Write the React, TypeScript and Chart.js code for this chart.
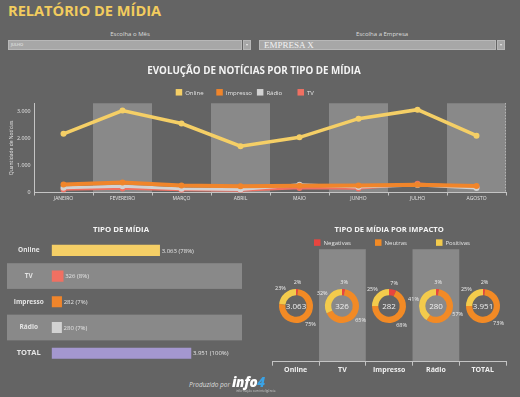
import React, { useEffect, useRef } from 'react';
import { Chart, registerables } from 'chart.js';

Chart.register(...registerables);

const FONT = '"Open Sans", sans-serif';

// ---------- Data ----------
const months = ['JANEIRO', 'FEVEREIRO', 'MARÇO', 'ABRIL', 'MAIO', 'JUNHO', 'JULHO', 'AGOSTO'];
const onlineByMonth = [2170, 3030, 2550, 1710, 2040, 2730, 3063, 2100];
const impressoByMonth = [300, 370, 260, 230, 250, 260, 282, 240];
const radioByMonth = [180, 230, 140, 110, 290, 200, 280, 170];
const tvByMonth = [110, 150, 90, 70, 170, 150, 326, 200];
const lineYTicks = [0, 1000, 2000, 3000];

const mediaTypes = ['Online', 'TV', 'Impresso', 'Rádio', 'TOTAL'];
const mediaTotals = [3063, 326, 282, 280, 3951];
const mediaShares = [78, 8, 7, 7, 100];

const impactLevels = ['Negativas', 'Neutras', 'Positivas'];
const impactCategories = ['Online', 'TV', 'Impresso', 'Rádio', 'TOTAL'];
const impactTotals = [3063, 326, 282, 280, 3951];
const negativasPct = [2, 3, 7, 3, 2];
const neutrasPct = [75, 65, 68, 57, 73];
const positivasPct = [23, 32, 25, 41, 25];

// ---------- Styles ----------
const C = {
  bg: '#646464',
  band: '#898989',
  online: '#F5CF66',
  impresso: '#F0852B',
  radio: '#D2D2D2',
  tv: '#F07062',
  total: '#A497CF',
  neg: '#E8453F',
  neu: '#F28A25',
  pos: '#F3CB4C',
  text: '#e4e4e4',
  axis: '#c4c4c4',
  title: '#f4f4f4',
};
const mediaColors = [C.online, C.tv, C.impresso, C.radio, C.total];
const impactColors = [C.neg, C.neu, C.pos];

const fmt = (v: number) => String(Math.round(v)).replace(/\B(?=(\d{3})+(?!\d))/g, '.');

// ---------- Plugins ----------
const bandsPlugin = {
  id: 'bands',
  beforeDraw(chart: any, _a: any, opts: any) {
    if (!opts || !opts.indices) return;
    const { ctx, chartArea } = chart;
    const scale = chart.scales[opts.axis];
    const step = Math.abs(scale.getPixelForValue(1) - scale.getPixelForValue(0));
    ctx.save();
    ctx.fillStyle = opts.color;
    opts.indices.forEach((i: number) => {
      const c = scale.getPixelForValue(i);
      if (opts.axis === 'x') {
        ctx.fillRect(c - step / 2, chartArea.top, step, chartArea.bottom - chartArea.top);
      } else {
        const x0 = opts.x0 ?? chartArea.left;
        const x1 = opts.x1 ?? chartArea.right;
        ctx.fillRect(x0, c - step / 2, x1 - x0, step);
      }
    });
    if (opts.rightDash) {
      ctx.strokeStyle = opts.rightDash;
      ctx.lineWidth = 1;
      ctx.setLineDash([1, 2]);
      ctx.beginPath();
      ctx.moveTo(Math.round(chartArea.right) - 0.5, chartArea.top);
      ctx.lineTo(Math.round(chartArea.right) - 0.5, chartArea.bottom);
      ctx.stroke();
    }
    ctx.restore();
  },
};

const fixedLegendPlugin = {
  id: 'fixedLegend',
  afterDraw(chart: any, _a: any, opts: any) {
    if (!opts || opts.x === undefined) return;
    const { ctx } = chart;
    ctx.save();
    ctx.font = `${opts.size}px ${FONT}`;
    ctx.textBaseline = 'middle';
    ctx.textAlign = 'left';
    chart.data.datasets.forEach((ds: any, i: number) => {
      const x = opts.x + i * opts.step;
      ctx.fillStyle = ds.backgroundColor;
      ctx.fillRect(x, opts.y - opts.box / 2, opts.box, opts.box);
      ctx.fillStyle = opts.color;
      ctx.fillText(ds.label, x + opts.box + opts.gap, opts.y + 0.5);
    });
    ctx.restore();
  },
};

const barLabelsPlugin = {
  id: 'barLabels',
  afterDatasetsDraw(chart: any, _a: any, opts: any) {
    if (!opts || !opts.shares) return;
    const { ctx } = chart;
    const meta = chart.getDatasetMeta(0);
    const values = chart.data.datasets[0].data;
    ctx.save();
    ctx.font = `${opts.size}px ${FONT}`;
    ctx.fillStyle = opts.color;
    ctx.textBaseline = 'middle';
    ctx.textAlign = 'left';
    meta.data.forEach((bar: any, i: number) => {
      ctx.fillText(`${fmt(values[i])} (${opts.shares[i]}%)`, bar.x + 2, bar.y + 0.5);
    });
    ctx.restore();
  },
};

const donutLabelsPlugin = {
  id: 'donutLabels',
  afterDraw(chart: any, _a: any, opts: any) {
    if (!opts || opts.total === undefined) return;
    const { ctx } = chart;
    const meta = chart.getDatasetMeta(0);
    const values = chart.data.datasets[0].data;
    ctx.save();
    ctx.textBaseline = 'middle';
    ctx.textAlign = 'center';
    let cx = 0;
    let cy = 0;
    meta.data.forEach((arc: any, i: number) => {
      const p = arc.getProps(['x', 'y', 'startAngle', 'endAngle'], true);
      cx = p.x;
      cy = p.y;
      const a = (p.startAngle + p.endAngle) / 2;
      const r = opts.labelRadius;
      ctx.font = `${opts.pctSize}px ${FONT}`;
      ctx.fillStyle = opts.color;
      ctx.fillText(`${values[i]}%`, p.x + Math.cos(a) * r, p.y + Math.sin(a) * r);
    });
    ctx.font = `${opts.totalSize}px ${FONT}`;
    ctx.fillStyle = opts.color;
    ctx.fillText(fmt(opts.total), cx, cy + 0.5);
    ctx.restore();
  },
};

// ---------- Chart hook ----------
function useChart(build: () => any) {
  const ref = useRef<HTMLCanvasElement | null>(null);
  useEffect(() => {
    if (!ref.current) return;
    const chart = new Chart(ref.current, build());
    return () => chart.destroy();
  }, []);
  return ref;
}

function LineChart() {
  const ref = useChart(() => ({
    type: 'line',
    data: {
      labels: months,
      datasets: [
        { label: 'Online', data: onlineByMonth, color: C.online, w: 3.5 },
        { label: 'Impresso', data: impressoByMonth, color: C.impresso, w: 4 },
        { label: 'Rádio', data: radioByMonth, color: C.radio, w: 3 },
        { label: 'TV', data: tvByMonth, color: C.tv, w: 2.5 },
      ].map((d) => ({
        label: d.label,
        data: d.data,
        borderColor: d.color,
        backgroundColor: d.color,
        pointBackgroundColor: d.color,
        borderWidth: d.w,
        pointRadius: 3,
        pointBorderWidth: 0,
        tension: 0,
      })),
    },
    options: {
      animation: false,
      responsive: false,
      maintainAspectRatio: false,
      layout: { padding: { left: 2, right: 14, top: 0, bottom: 0 } },
      plugins: {
        legend: { display: false },
        tooltip: { enabled: false },
        title: {
          display: true,
          text: 'EVOLUÇÃO DE NOTÍCIAS POR TIPO DE MÍDIA',
          color: C.title,
          font: { family: FONT, size: 9.8, weight: 'bold' },
          padding: { top: 5, bottom: 26.5 },
        },
        bands: { axis: 'x', indices: [1, 3, 5, 7], color: C.band, rightDash: C.axis },
        fixedLegend: { x: 175.7, y: 32.3, step: 40.6, box: 6.5, gap: 3, size: 6, color: C.text },
      },
      scales: {
        x: {
          offset: true,
          grid: { display: true, offset: true, drawOnChartArea: false, drawTicks: true, tickLength: 3, color: C.axis },
          border: { display: true, color: C.axis },
          ticks: { color: C.text, font: { family: FONT, size: 5 }, padding: 0, maxRotation: 0, autoSkip: false },
          afterFit: (s: any) => { s.height = 17.5; },
        },
        y: {
          min: 0,
          max: 3300,
          afterBuildTicks: (s: any) => { s.ticks = lineYTicks.map((v) => ({ value: v })); },
          ticks: { callback: (v: any) => fmt(Number(v)), color: C.text, font: { family: FONT, size: 5.3 }, padding: 3.5 },
          grid: { display: false, drawTicks: false },
          border: { display: true, dash: [1, 2], color: C.axis },
          title: {
            display: true,
            text: 'Quantidade de Notícias',
            color: C.text,
            font: { family: FONT, size: 5 },
            padding: { top: 7, bottom: 0 },
          },
          afterFit: (s: any) => { s.width = 32; },
        },
      },
    },
    plugins: [bandsPlugin, fixedLegendPlugin],
  }));
  return (
    <canvas ref={ref} width={520} height={150}
      style={{ position: 'absolute', left: 0, top: 60, width: 520, height: 150 }} />
  );
}

function MediaBarChart() {
  const ref = useChart(() => ({
    type: 'bar',
    data: {
      labels: mediaTypes,
      datasets: [{ data: mediaTotals, backgroundColor: mediaColors, barThickness: 10.5, borderWidth: 0 }],
    },
    options: {
      indexAxis: 'y',
      animation: false,
      responsive: false,
      maintainAspectRatio: false,
      layout: { padding: { left: 0, right: 18, top: 0, bottom: 4.5 } },
      plugins: {
        legend: { display: false },
        tooltip: { enabled: false },
        title: {
          display: true,
          text: 'TIPO DE MÍDIA',
          color: C.title,
          font: { family: FONT, size: 7.8, weight: 'bold' },
          padding: { top: 7, bottom: 3.1 },
        },
        bands: { axis: 'y', indices: [1, 3], color: C.band, x0: 7 },
        barLabels: { shares: mediaShares, size: 6, color: C.text },
      },
      scales: {
        x: { display: false, min: 0, max: 5400 },
        y: {
          grid: { display: false, drawTicks: false },
          border: { display: false },
          ticks: {
            color: C.text,
            crossAlign: 'center',
            padding: 8,
            font: (ctx: any) => ({ family: FONT, size: ctx.index === 4 ? 7.5 : 6.5, weight: 'bold' }),
          },
          afterFit: (s: any) => { s.width = 51.7; },
        },
      },
    },
    plugins: [bandsPlugin, barLabelsPlugin],
  }));
  return (
    <canvas ref={ref} width={260} height={160}
      style={{ position: 'absolute', left: 0, top: 218, width: 260, height: 160 }} />
  );
}

function ImpactFrame() {
  const ref = useChart(() => ({
    type: 'bar',
    data: {
      labels: impactCategories,
      datasets: impactLevels.map((l, i) => ({ label: l, data: [], backgroundColor: impactColors[i] })),
    },
    options: {
      animation: false,
      responsive: false,
      maintainAspectRatio: false,
      layout: { padding: { left: 12.3, right: 14, top: 0, bottom: 0 } },
      plugins: {
        legend: { display: false },
        tooltip: { enabled: false },
        title: {
          display: true,
          text: 'TIPO DE MÍDIA POR IMPACTO',
          color: C.title,
          font: { family: FONT, size: 7.6, weight: 'bold' },
          padding: { top: 7.2, bottom: 14.9 },
        },
        bands: { axis: 'x', indices: [1, 3], color: C.band },
        fixedLegend: { x: 54, y: 24.6, step: 61, box: 6.5, gap: 3, size: 6, color: C.text },
      },
      scales: {
        x: {
          grid: { display: true, offset: true, drawOnChartArea: false, tickLength: 4, color: C.axis },
          border: { display: true, color: C.axis },
          ticks: { color: '#f0f0f0', font: { family: FONT, size: 7, weight: 'bold' }, padding: 0, maxRotation: 0 },
          afterFit: (s: any) => { s.height = 21.3; },
        },
        y: { display: false, min: 0, max: 1 },
      },
    },
    plugins: [bandsPlugin, fixedLegendPlugin],
  }));
  return (
    <canvas ref={ref} width={260} height={165}
      style={{ position: 'absolute', left: 260, top: 218, width: 260, height: 165 }} />
  );
}

function Donut({ index }: { index: number }) {
  const ref = useChart(() => ({
    type: 'doughnut',
    data: {
      labels: impactLevels,
      datasets: [{
        data: [negativasPct[index], neutrasPct[index], positivasPct[index]],
        backgroundColor: impactColors,
        borderWidth: 0,
      }],
    },
    options: {
      animation: false,
      responsive: false,
      maintainAspectRatio: false,
      radius: 17,
      cutout: '63%',
      plugins: {
        legend: { display: false },
        tooltip: { enabled: false },
        donutLabels: { total: impactTotals[index], labelRadius: 23.5, pctSize: 5.5, totalSize: 8, color: '#eeeeee' },
      },
    },
    plugins: [donutLabelsPlugin],
  }));
  const cx = 260 + 12.3 + 46.74 * (index + 0.5);
  return (
    <canvas ref={ref} width={80} height={64}
      style={{ position: 'absolute', left: cx - 40, top: 306 - 32, width: 80, height: 64 }} />
  );
}

function Dropdown({ left, width, text, serif }: { left: number; width: number; text: string; serif?: boolean }) {
  return (
    <>
      <div style={{
        position: 'absolute', left, top: 40, width: width - 9, height: 10, boxSizing: 'border-box',
        background: '#a7a7a7', border: '1px solid #b8b8b8', overflow: 'hidden',
        color: '#f2f2f2', whiteSpace: 'nowrap',
        fontFamily: serif ? '"Liberation Serif", serif' : FONT,
        fontSize: serif ? 9 : 4, lineHeight: '8px', paddingLeft: serif ? 4 : 2,
      }}>{text}</div>
      <div style={{
        position: 'absolute', left: left + width - 8, top: 40, width: 8, height: 10, boxSizing: 'border-box',
        background: '#a7a7a7', border: '1px solid #b8b8b8',
      }}>
        <div style={{
          position: 'absolute', left: 2, top: 3, width: 0, height: 0,
          borderLeft: '1.5px solid transparent', borderRight: '1.5px solid transparent', borderTop: '2px solid #eee',
        }} />
      </div>
    </>
  );
}

export default function App() {
  return (
    <div style={{
      position: 'fixed', left: 0, top: 0, width: 520, height: 397, background: C.bg,
      overflow: 'hidden', fontFamily: FONT,
    }}>
      <div style={{
        position: 'absolute', left: 8, top: 1, fontSize: 14.6, lineHeight: '18px', fontWeight: 700,
        color: '#F2CC5E', whiteSpace: 'nowrap',
      }}>RELATÓRIO DE MÍDIA</div>

      <div style={{ position: 'absolute', left: 8, top: 30, width: 244, textAlign: 'center', fontSize: 6, lineHeight: '8px', color: '#dddddd' }}>Escolha o Mês</div>
      <div style={{ position: 'absolute', left: 259, top: 30, width: 246, textAlign: 'center', fontSize: 6, lineHeight: '8px', color: '#dddddd' }}>Escolha a Empresa</div>
      <Dropdown left={8} width={243} text="JULHO" />
      <Dropdown left={259} width={246} text="EMPRESA X" serif />

      <LineChart />
      <MediaBarChart />
      <ImpactFrame />
      {impactCategories.map((_, i) => <Donut key={i} index={i} />)}

      <div style={{
        position: 'absolute', left: 189, top: 381, fontSize: 6.5, lineHeight: '8px', fontStyle: 'italic',
        color: '#dddddd', whiteSpace: 'nowrap',
      }}>Produzido por</div>
      <div style={{
        position: 'absolute', left: 232, top: 374, fontSize: 13.5, lineHeight: '16px', fontStyle: 'italic',
        fontWeight: 800, color: '#ffffff', whiteSpace: 'nowrap', letterSpacing: -0.3,
      }}>info<span style={{ color: '#3aa3e6' }}>4</span></div>
      <div style={{
        position: 'absolute', left: 236, top: 389, fontSize: 3, lineHeight: '4px', color: '#cccccc', whiteSpace: 'nowrap',
      }}>informação com inteligência</div>
    </div>
  );
}
